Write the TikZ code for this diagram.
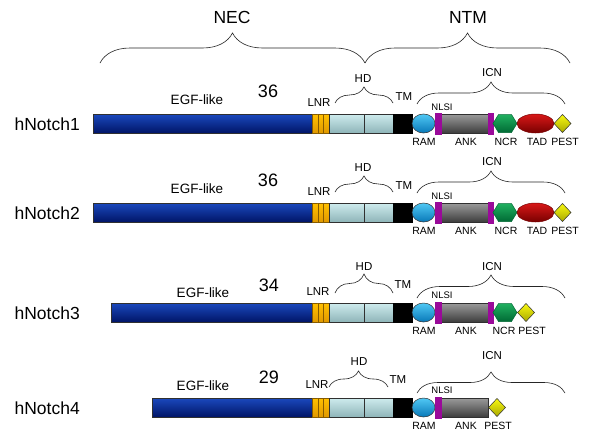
\documentclass[tikz,border=0pt]{standalone}
\usepackage{fontspec}
\setmainfont{Liberation Sans}
\usetikzlibrary{decorations.pathreplacing,shapes.geometric}
\definecolor{egftop}{HTML}{1A48BC}
\definecolor{egfbot}{HTML}{001466}
\definecolor{lnrc}{HTML}{FFC000}
\definecolor{lnrd}{HTML}{E09800}
\definecolor{hdtop}{HTML}{CDEBED}
\definecolor{hdbot}{HTML}{8EB4B8}
\definecolor{ramtop}{HTML}{50C8F4}
\definecolor{rambot}{HTML}{0878B8}
\definecolor{purp}{HTML}{9A0A9A}
\definecolor{anktop}{HTML}{9A9A9A}
\definecolor{ankbot}{HTML}{3C3C3C}
\definecolor{ncrtop}{HTML}{20B060}
\definecolor{ncrbot}{HTML}{006A34}
\definecolor{tadtop}{HTML}{D81818}
\definecolor{tadbot}{HTML}{780000}
\definecolor{pesttop}{HTML}{F8F810}
\definecolor{pestbot}{HTML}{A8A800}
\definecolor{segline}{HTML}{303030}
\tikzset{
  segbox/.style={draw=segline, line width=0.5pt, anchor=north west, inner sep=0pt, minimum height=19pt},
  egfbox/.style={top color=egftop, bottom color=egfbot},
  lnrbox/.style={segbox, top color=lnrc, bottom color=lnrd, minimum width=5.667pt, draw=lnrd!60!black},
  hdbox/.style={segbox, top color=hdtop, bottom color=hdbot},
  tmbox/.style={segbox, fill=black, draw=black},
  rambox/.style={ellipse, draw=segline, line width=0.5pt, inner sep=0pt, minimum width=23pt, minimum height=19pt, top color=ramtop, bottom color=rambot},
  purpbox/.style={segbox, fill=purp, draw=purp, minimum height=21pt},
  ankbox/.style={segbox, top color=anktop, bottom color=ankbot},
  tadbox/.style={ellipse, draw=tadbot, line width=0.5pt, inner sep=0pt, minimum width=37pt, minimum height=19pt, top color=tadtop, bottom color=tadbot},
  ncrbox/.style={draw=ncrbot, line width=0.5pt, top color=ncrtop, bottom color=ncrbot},
  pestbox/.style={draw=segline, line width=0.5pt, top color=pesttop, bottom color=pestbot},
  domlbl/.style={inner sep=0pt, font=\fontsize{10.5}{10.5}\selectfont},
  uplbl/.style={inner sep=0pt, font=\fontsize{11.5}{11.5}\selectfont},
  nlsilbl/.style={inner sep=0pt, font=\fontsize{9.5}{9.5}\selectfont},
  egflbl/.style={inner sep=0pt, font=\fontsize{13.5}{13.5}\selectfont},
  numlbl/.style={inner sep=0pt, font=\fontsize{18}{18}\selectfont},
  rowname/.style={inner sep=0pt, anchor=east, font=\fontsize{17.5}{17.5}\selectfont},
  toplbl/.style={inner sep=0pt, font=\fontsize{17.5}{17.5}\selectfont},
  brc/.style={decorate, line width=0.6pt, draw=black!85},
}
% #1 row id, #2 top y, #3 left x
\newcommand{\notchcore}[3]{%
  \node[segbox, egfbox, minimum width={312-#3}] (egf#1) at (#3,#2) {};
  \node[lnrbox] (lnra#1) at (312,#2) {};
  \node[lnrbox] (lnrb#1) at (317.667,#2) {};
  \node[lnrbox] (lnrc#1) at (323.333,#2) {};
  \node[hdbox, minimum width=35pt] (hda#1) at (329,#2) {};
  \node[hdbox, minimum width=29pt] (hdb#1) at (364,#2) {};
  \node[tmbox, minimum width=19pt] (tm#1) at (393,#2) {};
  \node[rambox] (ram#1) at (423.5,#2+9.5) {};
  \node[ankbox, minimum width=47pt] (ank#1) at (441,#2) {};
  \node[purpbox, minimum width=6pt] (nlsi#1) at (435,#2-1) {};
}
\newcommand{\hexncr}[1]{%
  \path[ncrbox] (493,#1+9.5) -- (498.5,#1+0.5) -- (511.5,#1+0.5) -- (517,#1+9.5) -- (511.5,#1+18.5) -- (498.5,#1+18.5) -- cycle;
}
% #1 top y, #2 centre x
\newcommand{\pestshape}[2]{%
  \path[pestbox] (#2-8.5,#1+9.5) -- (#2,#1+0.5) -- (#2+8.5,#1+9.5) -- (#2,#1+18.5) -- cycle;
}
\begin{document}
\begin{tikzpicture}[x=1pt,y=-1pt]
\useasboundingbox[fill=white] (0,0) rectangle (600,442);

% top braces
\draw[brc, decoration={brace, amplitude=30pt, aspect=0.5}] (100,63) -- (365,63);
\draw[brc, decoration={brace, amplitude=30pt, aspect=0.5}] (365,63) -- (570,63);
\node[toplbl] (nec) at (232,17) {NEC};
\node[toplbl] (ntm) at (468,17) {NTM};

% ---------------- row 1
\notchcore{1}{114}{93}
\node[purpbox, minimum width=5pt] (nlsib1) at (488,113) {};
\hexncr{114}
\node[tadbox] (tad1) at (535.5,123.5) {};
\pestshape{114}{562.5}
\node[rowname] (n1) at (80,124) {hNotch1};
\node[egflbl] (e1) at (197,100) {EGF-like};
\node[numlbl] (c1) at (268,91) {36};
\node[uplbl] (l1) at (319,103) {LNR};
\draw[brc, decoration={brace, amplitude=16pt, aspect=0.5}] (335,103) -- (393,103);
\node[uplbl] (h1) at (363,79) {HD};
\node[uplbl] (t1) at (404,97) {TM};
\draw[brc, decoration={brace, amplitude=22pt, aspect=0.5}] (417,104) -- (565,104);
\node[uplbl] (i1) at (492,73) {ICN};
\node[nlsilbl] (s1) at (442,107) {NLSI};
\node[domlbl] at (424,142) {RAM};
\node[domlbl] at (466,142) {ANK};
\node[domlbl] at (506,142) {NCR};
\node[domlbl] at (537,142) {TAD};
\node[domlbl] at (565,142) {PEST};

% ---------------- row 2
\notchcore{2}{203}{93}
\node[purpbox, minimum width=5pt] (nlsib2) at (488,202) {};
\hexncr{203}
\node[tadbox] (tad2) at (535.5,212.5) {};
\pestshape{203}{562.5}
\node[rowname] (n2) at (80,213) {hNotch2};
\node[egflbl] (e2) at (197,189) {EGF-like};
\node[numlbl] (c2) at (268,180) {36};
\node[uplbl] (l2) at (319,192) {LNR};
\draw[brc, decoration={brace, amplitude=16pt, aspect=0.5}] (335,192) -- (393,192);
\node[uplbl] (h2) at (363,168) {HD};
\node[uplbl] (t2) at (404,186) {TM};
\draw[brc, decoration={brace, amplitude=22pt, aspect=0.5}] (417,193) -- (565,193);
\node[uplbl] (i2) at (492,162) {ICN};
\node[nlsilbl] (s2) at (442,196) {NLSI};
\node[domlbl] at (424,231) {RAM};
\node[domlbl] at (466,231) {ANK};
\node[domlbl] at (506,231) {NCR};
\node[domlbl] at (537,231) {TAD};
\node[domlbl] at (565,231) {PEST};

% ---------------- row 3
\notchcore{3}{303}{111}
\node[purpbox, minimum width=5pt] (nlsib3) at (488,302) {};
\hexncr{303}
\pestshape{303}{526}
\node[rowname] (n3) at (80,313) {hNotch3};
\node[egflbl] (e3) at (203,293) {EGF-like};
\node[numlbl] (c3) at (269,285) {34};
\node[uplbl] (l3) at (318,292) {LNR};
\draw[brc, decoration={brace, amplitude=19pt, aspect=0.5}] (335,293) -- (393,293);
\node[uplbl] (h3) at (364,267) {HD};
\node[uplbl] (t3) at (403,285) {TM};
\draw[brc, decoration={brace, amplitude=23pt, aspect=0.5}] (417,298) -- (565,298);
\node[uplbl] (i3) at (492,267) {ICN};
\node[nlsilbl] (s3) at (442,295) {NLSI};
\node[domlbl] at (424,331) {RAM};
\node[domlbl] at (466,331) {ANK};
\node[domlbl] at (504,331) {NCR};
\node[domlbl] at (532,331) {PEST};

% ---------------- row 4
\notchcore{4}{398}{152}
\pestshape{398}{497}
\node[rowname] (n4) at (80,408) {hNotch4};
\node[egflbl] (e4) at (203,386) {EGF-like};
\node[numlbl] (c4) at (269,377) {29};
\node[uplbl] (l4) at (317,385) {LNR};
\draw[brc, decoration={brace, amplitude=16pt, aspect=0.5}] (329,387) -- (388,387);
\node[uplbl] (h4) at (359,362) {HD};
\node[uplbl] (t4) at (398,380) {TM};
\draw[brc, decoration={brace, amplitude=21pt, aspect=0.5}] (417,393) -- (565,393);
\node[uplbl] (i4) at (492,356) {ICN};
\node[nlsilbl] (s4) at (442,390) {NLSI};
\node[domlbl] at (424,426) {RAM};
\node[domlbl] at (466,426) {ANK};
\node[domlbl] at (498,426) {PEST};
\end{tikzpicture}
\end{document}
